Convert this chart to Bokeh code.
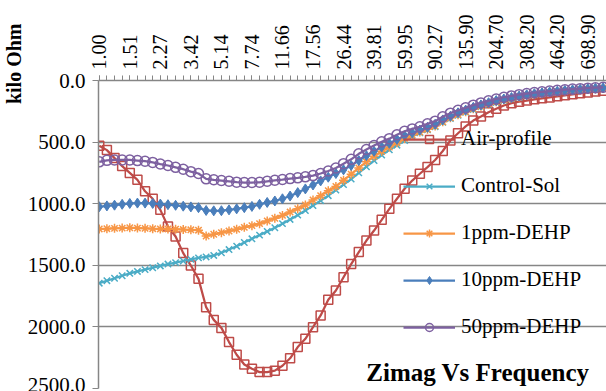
import math
from bokeh.plotting import figure
from bokeh.models import (Range1d, FixedTicker, NumeralTickFormatter, Legend, LegendItem,
                          Label, Title, ColumnDataSource)
from bokeh.embed import file_html
from bokeh.resources import INLINE

SERIF = "'Liberation Serif', 'Times New Roman', serif"

# Tick labels (frequency) shown on every 4th category
freq_labels = ["1.00", "1.51", "2.27", "3.42", "5.14", "7.74", "11.66", "17.56", "26.44",
               "39.81", "59.95", "90.27", "135.90", "204.70", "308.20", "464.20", "698.90"]

air_profile = [530, 565, 630, 695, 750, 806, 899, 960, 1050, 1185, 1266, 1401, 1502, 1610,
               1840, 1943, 2008, 2123, 2226, 2305, 2340, 2367, 2367, 2355, 2315, 2255, 2164,
               2097, 2002, 1907, 1780, 1705, 1597, 1490, 1393, 1299, 1218, 1131, 1042, 960,
               879, 812, 757, 703, 645, 572, 487, 428, 373, 325, 292, 257, 230, 203, 184,
               172, 163, 153, 145, 137, 128, 120, 112, 104, 97, 90, 84]

control_sol = [1645, 1625, 1605, 1585, 1565, 1550, 1535, 1520, 1505, 1490, 1478, 1465, 1452,
               1440, 1432, 1420, 1398, 1372, 1345, 1315, 1285, 1255, 1225, 1195, 1162, 1128,
               1093, 1055, 1015, 975, 935, 890, 845, 800, 750, 700, 650, 605, 563, 525, 488,
               455, 425, 400, 375, 340, 308, 282, 258, 235, 214, 195, 178, 162, 148, 136,
               125, 115, 107, 100, 93, 87, 82, 77, 72, 68, 64]

ppm1 = [1205, 1203, 1200, 1198, 1195, 1198, 1200, 1203, 1205, 1205, 1207, 1210, 1212, 1215,
        1262, 1248, 1235, 1222, 1208, 1192, 1178, 1162, 1140, 1118, 1095, 1068, 1040, 1010,
        970, 935, 895, 860, 810, 760, 710, 660, 615, 575, 540, 505, 470, 443, 418, 395, 370,
        335, 303, 277, 253, 230, 210, 190, 173, 158, 145, 133, 122, 113, 105, 98, 91, 85, 80,
        75, 70, 66, 62]

ppm10 = [1025, 1018, 1012, 1005, 998, 995, 995, 998, 1003, 1008, 1013, 1020, 1026, 1032,
         1055, 1058, 1057, 1050, 1042, 1032, 1022, 1005, 990, 978, 960, 938, 910, 880, 848,
         815, 785, 755, 725, 690, 650, 610, 575, 540, 510, 478, 448, 425, 402, 380, 355, 320,
         290, 262, 240, 218, 198, 180, 163, 150, 138, 126, 116, 107, 100, 93, 87, 81, 76, 71,
         67, 63, 60]

ppm50 = [660, 648, 645, 645, 645, 650, 655, 665, 678, 690, 705, 720, 740, 755, 798, 806, 812,
         818, 825, 828, 828, 826, 818, 810, 804, 796, 790, 782, 772, 755, 735, 710, 675, 640,
         595, 560, 528, 498, 472, 440, 412, 393, 376, 352, 330, 295, 265, 242, 222, 200, 182,
         165, 150, 136, 125, 115, 106, 98, 92, 86, 80, 75, 70, 66, 62, 58, 55]

series_names = ["Air-profile", "Control-Sol", "1ppm-DEHP", "10ppm-DEHP", "50ppm-DEHP"]
series_values = [air_profile, control_sol, ppm1, ppm10, ppm50]
colors = ["#BE4B48", "#4BACC6", "#F79646", "#4A7EBB", "#7D60A0"]
markers = ["square", "x", "asterisk", "diamond", "circle"]

n = len(air_profile)
idx = list(range(n))

p = figure(width=606, height=391, output_backend="svg", toolbar_location=None,
           x_axis_location="above",
           x_range=Range1d(-0.1, 66.45), y_range=Range1d(2500, 0),
           min_border_left=95, min_border_top=80, min_border_right=0, min_border_bottom=3)
p.outline_line_color = None
p.background_fill_color = "white"

# axes
xa = p.xaxis[0]
xa.ticker = FixedTicker(ticks=list(range(0, n, 4)), minor_ticks=idx)
xa.major_label_overrides = {i * 4: lab for i, lab in enumerate(freq_labels)}
xa.major_label_orientation = math.pi / 2
xa.major_label_text_font = SERIF
xa.major_label_text_font_size = "20px"
xa.major_label_text_color = "black"
xa.major_label_standoff = 6
xa.axis_line_color = "#868686"
xa.axis_line_width = 1.5
xa.major_tick_line_color = "#868686"
xa.minor_tick_line_color = "#868686"
xa.major_tick_out = 5
xa.major_tick_in = 0
xa.minor_tick_out = 5
xa.minor_tick_in = 0

ya = p.yaxis[0]
ya.ticker = FixedTicker(ticks=[0, 500, 1000, 1500, 2000, 2500])
ya.formatter = NumeralTickFormatter(format="0.0")
ya.major_label_text_font = SERIF
ya.major_label_text_font_size = "21px"
ya.major_label_text_color = "black"
ya.major_label_standoff = 7
ya.axis_line_color = "#868686"
ya.axis_line_width = 1.5
ya.major_tick_line_color = "#868686"
ya.major_tick_out = 6
ya.major_tick_in = 0
ya.minor_tick_line_color = None

p.xgrid.grid_line_color = None
p.ygrid.ticker = FixedTicker(ticks=[500, 1000, 1500, 2000, 2500])
p.ygrid.grid_line_color = "#868686"
p.ygrid.grid_line_width = 1.5

items = []
for name, vals, col, mk in zip(series_names, series_values, colors, markers):
    src = ColumnDataSource(dict(x=idx, y=vals))
    ln = p.line("x", "y", source=src, line_color=col, line_width=2.25)
    if mk == "square":
        sc = p.scatter("x", "y", source=src, marker=mk, size=9,
                       line_color=col, line_width=1.5, fill_alpha=0)
    elif mk == "circle":
        sc = p.scatter("x", "y", source=src, marker=mk, size=10,
                       line_color=col, line_width=1.5, fill_alpha=0)
    elif mk == "diamond":
        sc = p.scatter("x", "y", source=src, marker=mk, size=10,
                       line_color=col, fill_color=col, line_width=1)
    else:
        sc = p.scatter("x", "y", source=src, marker=mk, size=9,
                       line_color=col, line_width=1.5)
    items.append(LegendItem(label=name, renderers=[ln, sc]))

legend = Legend(items=items, location=(305, 49), orientation="vertical",
                background_fill_alpha=0, border_line_alpha=0,
                glyph_width=52, glyph_height=20, label_height=20, spacing=22,
                label_standoff=6, padding=0, margin=0,
                label_text_font=SERIF, label_text_font_size="21px",
                label_text_color="black")
p.add_layout(legend, "center")

p.add_layout(Label(x=49.6, y=2370, text="Zimag Vs Frequency", text_align="center",
                   text_baseline="middle", text_font=SERIF,
                   text_font_size="25px", text_font_style="bold", text_color="black"))

ytitle = Title(text="kilo Ohm", align="right", offset=-57, text_font=SERIF,
               text_font_size="20px", text_font_style="bold", text_color="black",
               standoff=0)
p.add_layout(ytitle, "left")

open("out.html", "w").write(file_html(p, INLINE))
